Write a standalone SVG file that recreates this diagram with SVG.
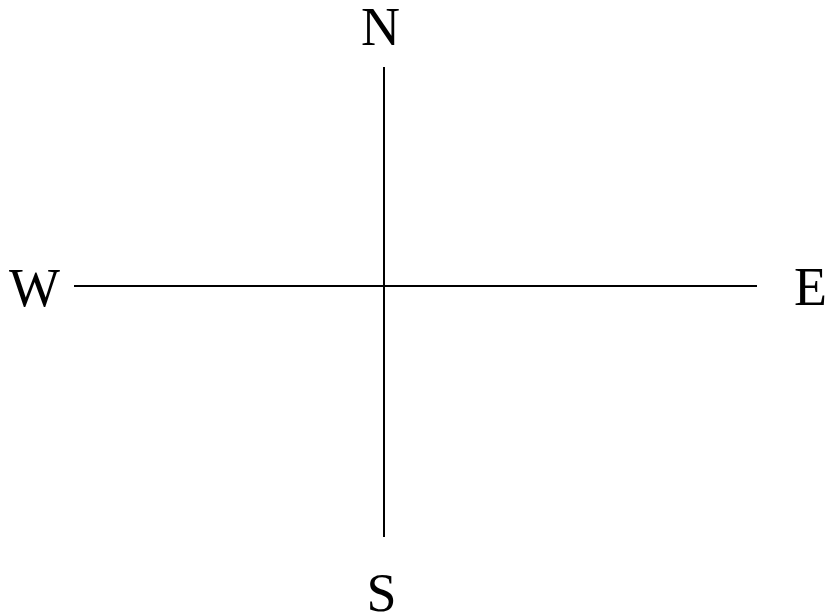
<svg xmlns="http://www.w3.org/2000/svg" width="827" height="614" viewBox="0 0 827 614">
<style>
.lbl{font-family:"Liberation Serif","Times New Roman",serif;font-size:54px;fill:#000}
.ln{stroke:#000;stroke-width:2;fill:none}
</style>
<rect width="827" height="614" fill="#fff"/>
<g id="connectors">
<line class="ln" x1="384" y1="67" x2="384" y2="537"/>
<line class="ln" x1="74" y1="286" x2="757" y2="286"/>
</g>
<g id="N"><text class="lbl" x="380.5" y="45" text-anchor="middle">N</text></g>
<g id="W"><text class="lbl" x="9" y="306">W</text></g>
<g id="E"><text class="lbl" x="794" y="305">E</text></g>
<g id="S"><text class="lbl" x="381.5" y="611" text-anchor="middle">S</text></g>
</svg>
